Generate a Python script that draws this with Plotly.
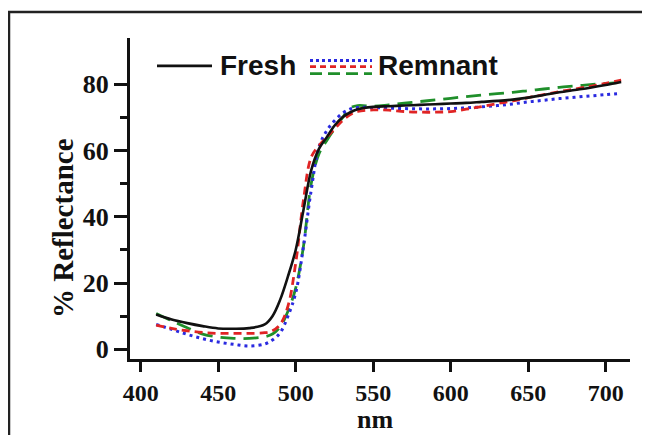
import plotly.graph_objects as go

wavelength = [410, 420, 430, 440, 450, 460, 470, 480, 485, 490, 495, 500, 505, 510, 515,
              520, 525, 530, 535, 540, 550, 560, 570, 580, 590, 600, 610, 620, 630, 640,
              650, 660, 670, 680, 690, 700, 710]

fresh = [10.5, 9.0, 7.9, 7.0, 6.3, 6.2, 6.4, 7.5, 10.0, 15.0, 22, 30, 42, 54, 60.5,
         64, 67.5, 70, 71.5, 72.5, 73.2, 73.4, 73.6, 73.8, 74.0, 74.2, 74.4, 74.7, 75.0, 75.4,
         76.0, 76.8, 77.6, 78.3, 79.0, 79.8, 80.7]

remnant_blue = [7.5, 6.0, 4.5, 3.2, 2.2, 1.5, 1.0, 1.6, 2.8, 5.0, 10, 17, 31, 48, 61,
                66, 69, 71.2, 72.5, 73.0, 73.0, 72.8, 72.7, 72.6, 72.6, 72.7, 72.9, 73.2, 73.6, 74.1,
                74.7, 75.2, 75.7, 76.1, 76.5, 76.9, 77.3]

remnant_red = [7.3, 6.3, 5.6, 5.1, 4.8, 4.8, 4.8, 5.0, 5.6, 7.5, 13, 26, 45, 58, 61.5,
               64, 66.5, 69, 70.8, 71.8, 72.3, 72.2, 71.8, 71.6, 71.6, 71.8, 72.5, 73.3, 74.2, 75.0,
               76.0, 76.9, 77.8, 78.6, 79.4, 80.3, 81.3]

remnant_green = [10.8, 8.6, 6.5, 4.6, 3.7, 3.3, 3.3, 3.8, 4.6, 6.8, 11.5, 18.5, 31, 50, 59,
                 63, 66.5, 69.8, 72.8, 73.6, 73.4, 73.8, 74.3, 74.8, 75.3, 75.8, 76.3, 76.8, 77.2, 77.6,
                 78.1, 78.6, 79.1, 79.5, 79.9, 80.3, 80.6]

x_ticks = [400, 450, 500, 550, 600, 650, 700]
y_ticks = [0, 20, 40, 60, 80]
y_minor_ticks = [10, 30, 50, 70]

BLACK = "#111111"
BLUE = "#2a2ae0"
RED = "#e02424"
GREEN = "#1f8f2a"

fig = go.Figure()
fig.add_trace(go.Scatter(x=wavelength, y=remnant_green, mode="lines", name="Remnant",
                         line=dict(color=GREEN, width=2.8, dash="15px,8px", shape="spline")))
fig.add_trace(go.Scatter(x=wavelength, y=remnant_blue, mode="lines", name="Remnant",
                         line=dict(color=BLUE, width=3, dash="3px,4px", shape="spline")))
fig.add_trace(go.Scatter(x=wavelength, y=remnant_red, mode="lines", name="Remnant",
                         line=dict(color=RED, width=2.8, dash="8px,5px", shape="spline")))
fig.add_trace(go.Scatter(x=wavelength, y=fresh, mode="lines", name="Fresh",
                         line=dict(color=BLACK, width=2.6, shape="spline")))

SERIF = "Liberation Serif, Times New Roman, serif"

# the page body adds an 8px offset, so the figure is 8px smaller than the window
fig.update_layout(
    width=642, height=427,
    margin=dict(l=122, r=20, t=30, b=76),
    paper_bgcolor="white", plot_bgcolor="white",
    showlegend=False,
    xaxis=dict(range=[393.1, 715.7], tickvals=x_ticks, ticks="outside", ticklen=10, tickwidth=3,
               tickcolor=BLACK, showline=True, linewidth=3, linecolor=BLACK, showgrid=False,
               zeroline=False, automargin=False,
               tickfont=dict(family=SERIF, size=24, color=BLACK, weight="bold")),
    yaxis=dict(range=[-2.93, 94.0], tickvals=y_ticks, ticks="outside", ticklen=13, tickwidth=3,
               tickcolor=BLACK, showline=True, linewidth=3, linecolor=BLACK, showgrid=False,
               zeroline=False, automargin=False,
               tickfont=dict(family=SERIF, size=26, color=BLACK, weight="bold"),
               minor=dict(tickmode="array", tickvals=y_minor_ticks, ticks="outside", ticklen=7,
                          tickwidth=3, tickcolor=BLACK, showgrid=False)),
)

# axis titles
fig.add_annotation(xref="paper", yref="paper", x=-0.134, y=0.408, text="% Reflectance",
                   textangle=-90, showarrow=False, xanchor="center", yanchor="middle",
                   font=dict(family=SERIF, size=29, color=BLACK, weight="bold"))
fig.add_annotation(xref="paper", yref="paper", x=0.49, y=-0.19, text="nm",
                   showarrow=False, xanchor="center", yanchor="middle",
                   font=dict(family=SERIF, size=26, color=BLACK, weight="bold"))

# outer frame
fig.add_shape(type="rect", xref="paper", yref="paper", x0=-0.242, x1=1.028, y0=-0.3, y1=1.081,
              line=dict(color="#222222", width=2.5), fillcolor="rgba(0,0,0,0)", layer="below")

# manual legend
def legend_line(x0, x1, y, color, dash, width):
    fig.add_shape(type="line", xref="paper", yref="paper", x0=x0, x1=x1, y0=y, y1=y,
                  line=dict(color=color, width=width, dash=dash))

legend_line(0.054, 0.164, 0.913, BLACK, "solid", 2.8)
legend_line(0.36, 0.484, 0.930, BLUE, "3px,3px", 3)
legend_line(0.36, 0.484, 0.911, RED, "6px,4px", 2.8)
legend_line(0.36, 0.484, 0.889, GREEN, "12px,6px", 2.8)

sans = dict(family="Liberation Sans, Arial, sans-serif", size=28, color=BLACK, weight="bold")
fig.add_annotation(xref="paper", yref="paper", x=0.176, y=0.913, text="Fresh", showarrow=False,
                   xanchor="left", yanchor="middle", font=sans)
fig.add_annotation(xref="paper", yref="paper", x=0.492, y=0.913, text="Remnant", showarrow=False,
                   xanchor="left", yanchor="middle", font=sans)

fig.write_html("out.html")
